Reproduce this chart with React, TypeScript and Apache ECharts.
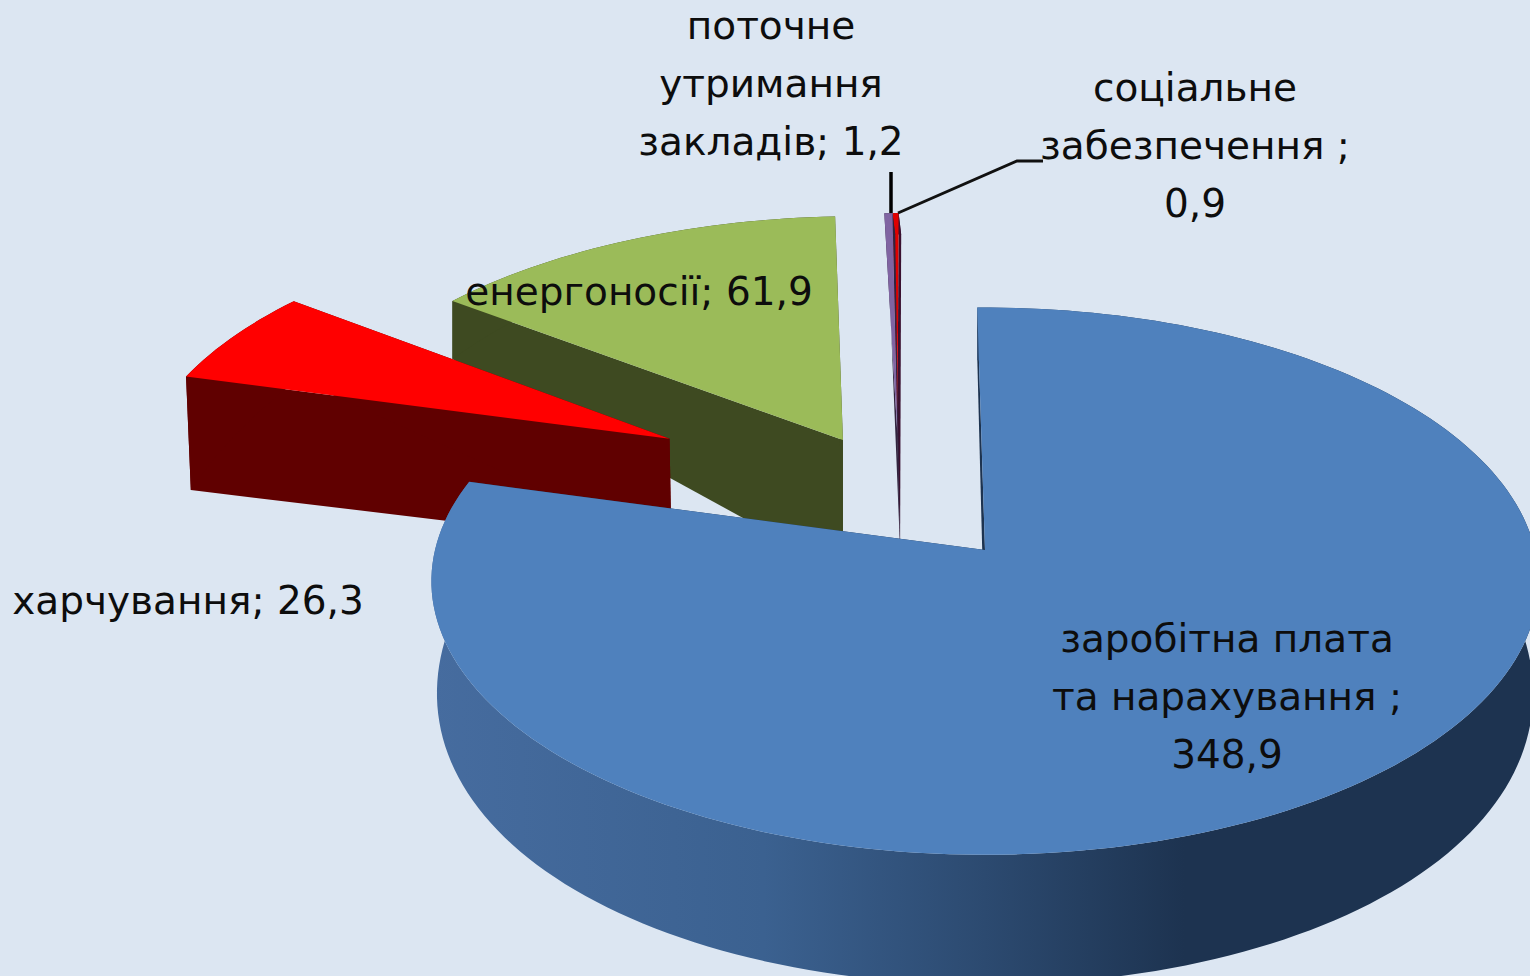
import React, { useEffect, useRef } from "react";
import * as echarts from "echarts";

// Data, in the reference's clockwise order
const categories = ["заробітна плата та нарахування", "харчування", "енергоносії", "поточне утримання закладів", "соціальне забезпечення"];
const values = [348.9, 26.3, 61.9, 1.2, 0.9];
const labels = [
  "заробітна плата\nта нарахування ;\n348,9",
  "харчування; 26,3",
  "енергоносії; 61,9",
  "поточне\nутримання\nзакладів; 1,2",
  "соціальне\nзабезпечення ;\n0,9",
];

// Styling
const topColors = ["#4F81BD", "#FF0000", "#9BBB59", "#8064A2", "#E00000"];
const wallColors = ["#1D3350", "#600000", "#3E4A21", "#31243F", "#3A1030"];
const drawOrder = [2, 4, 3, 1, 0];
const explode = [[0, 0], [-331, -238], [-149, -235], [-92, -245], [-92, -245]];
const radius = [550, 550, 556, 555, 555];
const wallScale = [[1, 1], [1.24, 1.55], [1.5, 1.15], [1.3, 1.3], [1.3, 1.3]];
const wallShrink = [0.99, 0.994, 1, 0.97, 0.97];
const labelX = [1227, 188, 639, 771, 1195];
const labelY = [696, 600, 291, 83, 145];
const labelAlign = ["center", "center", "center", "center", "center"];

const CX = 985;
const CY = 550;
const R = 555;
const KY = 272.5 / R;
const P = 0.115;
const ROT = (-0.9 * Math.PI) / 180;
const total = values.reduce((a, b) => a + b, 0);

const depthAt = (t: number) => 108 + 39 * t - 17 * t * t;
const project = (gx: number, gy: number) => {
  const s = 1 / (1 - (P * gy) / R);
  return [CX + gx * s, CY + KY * gy * s];
};

function sliceGeometry(i: number) {
  const before = values.slice(0, i).reduce((a, b) => a + b, 0);
  const a0 = (before / total) * Math.PI * 2 + ROT;
  const a1 = ((before + values[i]) / total) * Math.PI * 2 + ROT;
  const [ex, ey] = explode[i];
  const [sApex, sRim] = wallScale[i];
  const r = radius[i];
  const bottom = (gx: number, gy: number, scale: number) => {
    const p = project(gx, gy);
    const t = gy / R;
    return [CX + (p[0] - CX) * wallShrink[i], p[1] + depthAt(t) * scale];
  };
  const apexTop = project(ex, ey);
  const apexBottom = bottom(ex, ey, sApex);
  const rimTop: number[][] = [];
  const rimBottom: number[][] = [];
  const n = Math.max(2, Math.ceil(((a1 - a0) / (Math.PI * 2)) * 240));
  for (let k = 0; k <= n; k++) {
    const a = a0 + ((a1 - a0) * k) / n;
    const gx = ex + r * Math.sin(a);
    const gy = ey - r * Math.cos(a);
    rimTop.push(project(gx, gy));
    rimBottom.push(bottom(gx, gy, sRim));
  }
  return { apexTop, apexBottom, rimTop, rimBottom };
}

const blueWall = () =>
  new echarts.graphic.LinearGradient(0, 0, 1, 0, [
    { offset: 0, color: "#466C9F" },
    { offset: 0.3, color: "#3B6190" },
    { offset: 0.5, color: "#2C4A70" },
    { offset: 0.68, color: "#1D3350" },
    { offset: 1, color: "#1D3350" },
  ]);

const renderSlice = (params: any) => {
  const i = drawOrder[params.dataIndex];
  const g = sliceGeometry(i);
  const wall = i === 0 ? blueWall() : wallColors[i];
  const faceFill = wallColors[i];
  const last = g.rimTop.length - 1;
  const children: any[] = [
    {
      type: "polygon",
      shape: { points: [g.rimTop[0], g.apexTop, g.apexBottom, g.rimBottom[0]] },
      style: { fill: faceFill },
    },
    {
      type: "polygon",
      shape: { points: [g.rimTop[last], g.apexTop, g.apexBottom, g.rimBottom[last]] },
      style: { fill: faceFill },
    },
    {
      type: "polygon",
      shape: { points: [...g.rimTop, ...g.rimBottom.slice().reverse()] },
      style: { fill: wall },
    },
    {
      type: "polygon",
      shape: { points: [g.apexTop, ...g.rimTop] },
      style: { fill: topColors[i] },
    },
  ];
  return { type: "group", children };
};

const FONT = '39px "DejaVu Sans", sans-serif';

export default function App() {
  const ref = useRef<HTMLDivElement>(null);
  useEffect(() => {
    document.body.style.margin = "0";
    document.body.style.overflow = "hidden";
    const chart = echarts.init(ref.current!, undefined, { renderer: "svg" });
    chart.setOption({
      animation: false,
      backgroundColor: "#DCE6F2",
      series: [
        {
          type: "custom",
          coordinateSystem: "none",
          silent: true,
          renderItem: renderSlice,
          data: drawOrder.map((i) => ({ name: categories[i], value: values[i] })),
        },
      ],
      graphic: [
        {
          type: "polyline",
          z: 50,
          shape: { points: [[891, 172], [891, 213]] },
          style: { stroke: "#000", lineWidth: 3.5, fill: "none" },
        },
        {
          type: "polyline",
          z: 50,
          shape: { points: [[898, 213], [1017, 161], [1043, 161]] },
          style: { stroke: "#111", lineWidth: 3, fill: "none" },
        },
        ...labels.map((text, i) => ({
          type: "text",
          z: 60,
          x: labelX[i],
          y: labelY[i],
          style: {
            text,
            font: FONT,
            lineHeight: 58,
            fill: "#0D0D0D",
            align: labelAlign[i],
            verticalAlign: "middle",
          },
        })),
      ],
    });
    return () => chart.dispose();
  }, []);
  return <div ref={ref} style={{ width: 1530, height: 976 }} />;
}
